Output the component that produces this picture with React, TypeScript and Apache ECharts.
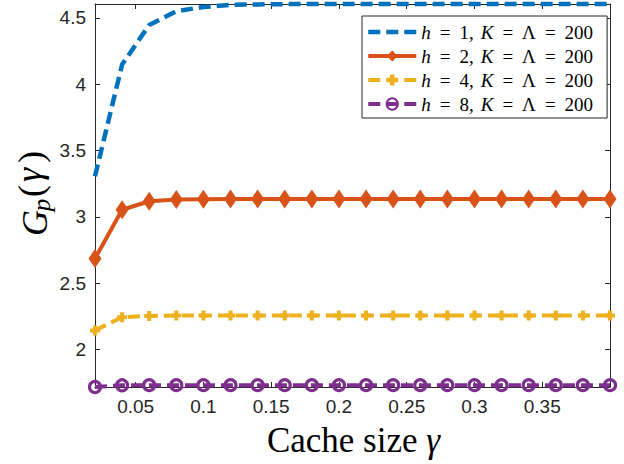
import React, { useEffect, useRef } from "react";
import * as echarts from "echarts";

const xValues = [0.02, 0.04, 0.06, 0.08, 0.1, 0.12, 0.14, 0.16, 0.18, 0.2, 0.22, 0.24, 0.26, 0.28, 0.3, 0.32, 0.34, 0.36, 0.38, 0.4];
const gH1 = [3.306, 4.148, 4.447, 4.55, 4.583, 4.598, 4.602, 4.604, 4.605, 4.605, 4.605, 4.605, 4.605, 4.605, 4.605, 4.605, 4.605, 4.605, 4.605, 4.605];
const gH2 = [2.685, 3.053, 3.117, 3.13, 3.133, 3.134, 3.135, 3.135, 3.135, 3.135, 3.135, 3.135, 3.135, 3.135, 3.135, 3.135, 3.135, 3.135, 3.135, 3.135];
const gH4 = [2.143, 2.243, 2.252, 2.255, 2.256, 2.256, 2.256, 2.256, 2.256, 2.256, 2.256, 2.256, 2.256, 2.256, 2.256, 2.256, 2.256, 2.256, 2.256, 2.256];
const gH8 = [1.716, 1.729, 1.73, 1.73, 1.73, 1.73, 1.73, 1.73, 1.73, 1.73, 1.73, 1.73, 1.73, 1.73, 1.73, 1.73, 1.73, 1.73, 1.73, 1.73];
const hValues = [1, 2, 4, 8];
const seriesNames = ["h = 1, K = Λ = 200", "h = 2, K = Λ = 200", "h = 4, K = Λ = 200", "h = 8, K = Λ = 200"];
const xTicks = [0.05, 0.1, 0.15, 0.2, 0.25, 0.3, 0.35];
const yTicks = [2, 2.5, 3, 3.5, 4, 4.5];
const xMin = 0.02, xMax = 0.4, yMin = 1.716, yMax = 4.605;

const BLUE = "#0072BD", ORANGE = "#D95319", YELLOW = "#EDB120", PURPLE = "#7E2F8E";
const AX = "#262626";
const SERIF = "'Liberation Serif', 'Times New Roman', serif";
const SANS = "'Liberation Sans', Arial, sans-serif";
const DASH = [12, 6];

const pairs = (ys: number[]) => xValues.map((x, i) => [x, ys[i]]);

export default function App() {
  const ref = useRef<HTMLDivElement>(null);
  useEffect(() => {
    document.body.style.margin = "0";
    const chart = echarts.init(ref.current!, null, { renderer: "svg" });
    const fmt = (v: number) => String(Number(v.toFixed(2)));
    const axisCommon = {
      type: "value" as const,
      axisLine: { show: true, onZero: false, lineStyle: { color: AX, width: 1 } },
      splitLine: { show: false },
    };
    const nameRich = (name: string) => {
      const i = seriesNames.indexOf(name);
      return `{i|h}{eq|=}{t|${hValues[i]},}{sp| }{i|K}{eq|=}{t|Λ}{eq|=}{t|200}`;
    };
    const base = { type: "line" as const, clip: false, z: 3 };
    const plusPath = "path://M3 0H7V3H10V7H7V10H3V7H0V3H3Z";
    chart.setOption({
      animation: false,
      backgroundColor: "#fff",
      grid: { left: 95, right: 14, top: 4, bottom: 77, containLabel: false },
      xAxis: [
        {
          ...axisCommon, position: "bottom", min: xMin, max: xMax,
          axisTick: { show: true, inside: true, length: 5, lineStyle: { color: AX }, customValues: xTicks },
          axisLabel: { show: true, customValues: xTicks, formatter: fmt, fontSize: 19, fontFamily: SANS, color: AX, margin: 10 },
        },
        {
          ...axisCommon, position: "top", min: xMin, max: xMax,
          axisTick: { show: true, inside: true, length: 5, lineStyle: { color: AX }, customValues: xTicks },
          axisLabel: { show: false },
        },
      ],
      yAxis: [
        {
          ...axisCommon, position: "left", min: yMin, max: yMax,
          axisTick: { show: true, inside: true, length: 5, lineStyle: { color: AX }, customValues: yTicks },
          axisLabel: { show: true, customValues: yTicks, formatter: fmt, fontSize: 19, fontFamily: SANS, color: AX, margin: 9 },
        },
        {
          ...axisCommon, position: "right", min: yMin, max: yMax,
          axisTick: { show: true, inside: true, length: 5, lineStyle: { color: AX }, customValues: yTicks },
          axisLabel: { show: false },
        },
      ],
      legend: {
        left: 362, top: 16, orient: "vertical",
        padding: [6, 14, 4, 4],
        itemWidth: 48, itemHeight: 14, itemGap: 4,
        backgroundColor: "#fff", borderColor: AX, borderWidth: 1,
        lineStyle: { width: "inherit", type: "inherit" },
        data: [
          { name: seriesNames[0], itemStyle: { opacity: 0 }, lineStyle: { width: 4.5, type: DASH } },
          { name: seriesNames[1], lineStyle: { width: 4 } },
          { name: seriesNames[2], lineStyle: { width: 4, type: DASH } },
          { name: seriesNames[3], lineStyle: { width: 4, type: DASH } },
        ],
        formatter: nameRich,
        textStyle: {
          fontFamily: SERIF, fontSize: 19, color: "#000", lineHeight: 20,
          rich: {
            i: { fontFamily: SERIF, fontSize: 19, fontStyle: "italic", color: "#000", lineHeight: 20 },
            t: { fontFamily: SERIF, fontSize: 19, color: "#000", lineHeight: 20 },
            eq: { fontFamily: SERIF, fontSize: 19, color: "#000", lineHeight: 20, padding: [0, 9, 0, 9] },
            sp: { fontFamily: SERIF, fontSize: 19, color: "#000", lineHeight: 20, width: 7 },
          },
        },
      },
      series: [
        {
          ...base, name: seriesNames[0], data: pairs(gH1), color: BLUE,
          symbol: "none", showSymbol: false,
          lineStyle: { color: BLUE, width: 4.5, type: DASH },
        },
        {
          ...base, name: seriesNames[1], data: pairs(gH2), color: ORANGE,
          symbol: "diamond", symbolSize: [13, 19], showSymbol: true,
          itemStyle: { color: ORANGE },
          lineStyle: { color: ORANGE, width: 4, type: "solid" },
        },
        {
          ...base, name: seriesNames[2], data: pairs(gH4), color: YELLOW,
          symbol: plusPath, symbolSize: 10, showSymbol: true,
          itemStyle: { color: YELLOW },
          lineStyle: { color: YELLOW, width: 4, type: DASH },
        },
        {
          ...base, name: seriesNames[3], data: pairs(gH8), color: PURPLE,
          symbol: "circle", symbolSize: 11, showSymbol: true,
          itemStyle: { color: "rgba(255,255,255,0)", borderColor: PURPLE, borderWidth: 3.2 },
          lineStyle: { color: PURPLE, width: 4, type: DASH },
        },
      ],
      graphic: [
        {
          type: "text", x: 353.5, y: 440, z: 10,
          style: {
            text: "{t|Cache size }{g|γ}",
            align: "center", verticalAlign: "middle",
            rich: {
              t: { fontFamily: SERIF, fontSize: 35, fill: "#000", lineHeight: 30 },
              g: { fontFamily: SERIF, fontSize: 35, fontStyle: "italic", fill: "#000", lineHeight: 30 },
            },
          },
        },
        {
          type: "group", x: 0, y: 235, rotation: Math.PI / 2, z: 10,
          children: [
            { type: "text", x: 12, y: 34.5, style: { text: "G", fontFamily: SERIF, fontSize: 36, fontStyle: "italic", fill: "#000", align: "center", verticalAlign: "middle" } },
            { type: "text", x: 30, y: 41, style: { text: "p", fontFamily: SERIF, fontSize: 25, fontStyle: "italic", fill: "#000", align: "center", verticalAlign: "middle" } },
            { type: "text", x: 44, y: 31, style: { text: "(", fontFamily: SERIF, fontSize: 36, fill: "#000", align: "center", verticalAlign: "middle" } },
            { type: "text", x: 60, y: 29, style: { text: "γ", fontFamily: SERIF, fontSize: 36, fontStyle: "italic", fill: "#000", align: "center", verticalAlign: "middle" } },
            { type: "text", x: 78, y: 31, style: { text: ")", fontFamily: SERIF, fontSize: 36, fill: "#000", align: "center", verticalAlign: "middle" } },
          ],
        },
      ],
    });
    return () => chart.dispose();
  }, []);
  return <div ref={ref} style={{ width: 624, height: 464 }} />;
}
